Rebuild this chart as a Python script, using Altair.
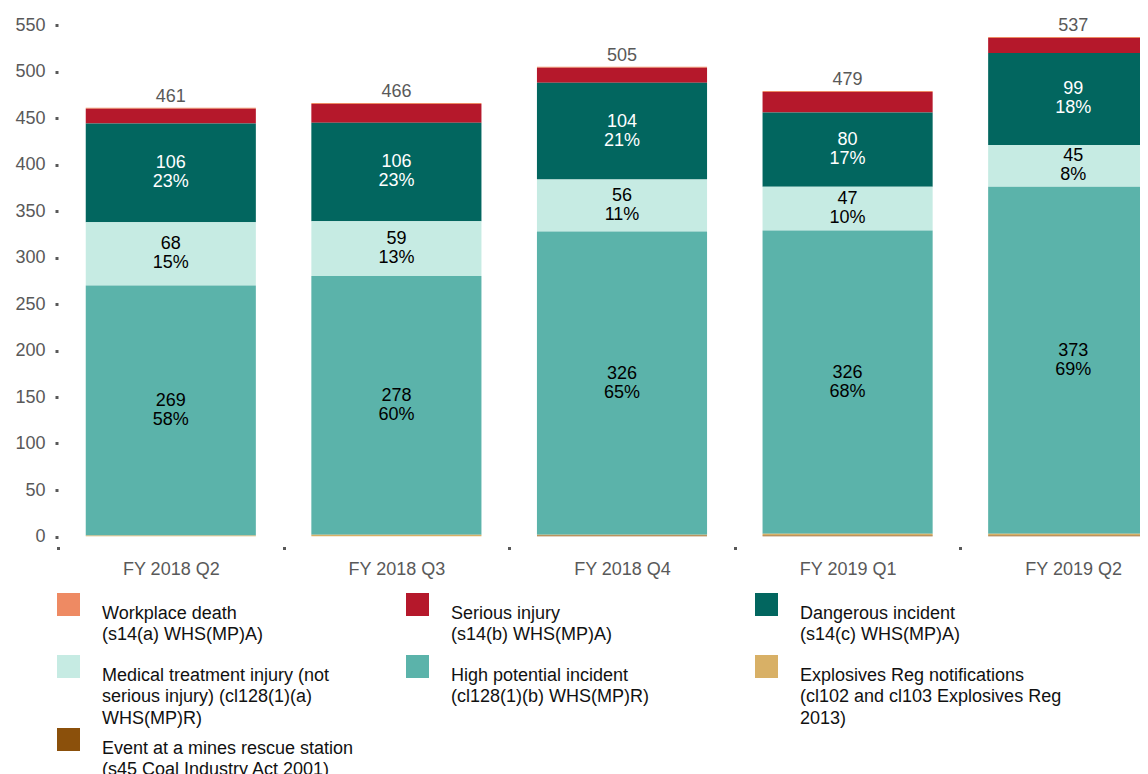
import altair as alt
import pandas as pd

quarters = ["FY 2018 Q2", "FY 2018 Q3", "FY 2018 Q4", "FY 2019 Q1", "FY 2019 Q2"]

series_labels = [
    "Workplace death|(s14(a) WHS(MP)A)",
    "Serious injury|(s14(b) WHS(MP)A)",
    "Dangerous incident|(s14(c) WHS(MP)A)",
    "Medical treatment injury (not|serious injury) (cl128(1)(a)|WHS(MP)R)",
    "High potential incident|(cl128(1)(b) WHS(MP)R)",
    "Explosives Reg notifications|(cl102 and cl103 Explosives Reg|2013)",
    "Event at a mines rescue station|(s45 Coal Industry Act 2001)",
]
series_colors = ["#EE8A63", "#B5182B", "#02665F", "#C6EBE3", "#5BB3AA", "#D8B066", "#8B500B"]
# stacking position from the bottom (0 = lowest)
stack_rank = [6, 5, 4, 3, 2, 1, 0]

workplace_death = [1, 1, 1, 1, 1]
serious_injury = [16, 20, 16, 22, 16]
dangerous_incident = [106, 106, 104, 80, 99]
medical_treatment = [68, 59, 56, 47, 45]
high_potential = [269, 278, 326, 326, 373]
explosives = [1, 2, 1, 2, 2]
mines_rescue = [0, 0, 1, 1, 1]
totals = [461, 466, 505, 479, 537]

high_potential_pct = ["58%", "60%", "65%", "68%", "69%"]
medical_pct = ["15%", "13%", "11%", "10%", "8%"]
dangerous_pct = ["23%", "23%", "21%", "17%", "18%"]

series_values = [workplace_death, serious_injury, dangerous_incident, medical_treatment,
                 high_potential, explosives, mines_rescue]

rows = []
for name, vals, rank in zip(series_labels, series_values, stack_rank):
    for q, v in zip(quarters, vals):
        rows.append({"quarter": q, "series": name, "value": v, "rank": rank})
df = pd.DataFrame(rows)

# segment mid points for the labelled series
lab_rows = []
for i, q in enumerate(quarters):
    base = mines_rescue[i] + explosives[i]
    for vals, pcts, col in [(high_potential, high_potential_pct, "#000000"),
                            (medical_treatment, medical_pct, "#000000"),
                            (dangerous_incident, dangerous_pct, "#FFFFFF")]:
        lab_rows.append({"quarter": q, "mid": base + vals[i] / 2,
                         "label": f"{vals[i]}|{pcts[i]}", "tcolor": col})
        base += vals[i]
lab_df = pd.DataFrame(lab_rows)
tot_df = pd.DataFrame({"quarter": quarters, "total": totals})

FONT = "Liberation Sans"
GREY = "#595959"

RANGE_W = 1128
P_IN, P_OUT = 0.246, 0.123
STEP = RANGE_W / (len(quarters) - P_IN + 2 * P_OUT)

x_scale = alt.Scale(paddingInner=P_IN, paddingOuter=P_OUT, range=[0, RANGE_W])
x_enc = alt.X(
    "quarter:N", sort=quarters, title=None, scale=x_scale,
    axis=alt.Axis(labelAngle=0, domain=False, bandPosition=0,
                  tickOffset=-STEP * P_OUT, labelOffset=STEP * P_OUT,
                  tickSize=13, tickDash=[3, 10], tickDashOffset=3, tickWidth=3,
                  tickColor=GREY, labelAlign="center",
                  labelPadding=11, labelColor=GREY, labelFontSize=18, labelFont=FONT),
)
y_scale = alt.Scale(domain=[0, 550], nice=False)

bars = alt.Chart(df).mark_bar(clip=True).encode(
    x=x_enc,
    y=alt.Y("value:Q", stack="zero", scale=y_scale, title=None,
            axis=alt.Axis(values=list(range(0, 551, 50)), grid=False, domain=False,
                          tickSize=3, tickWidth=3, tickColor=GREY, labelPadding=10,
                          labelColor=GREY, labelFontSize=18, labelFont=FONT)),
    color=alt.Color(
        "series:N", scale=alt.Scale(domain=series_labels, range=series_colors),
        legend=alt.Legend(
            title=None, orient="none", legendX=-1, legendY=557, columns=3,
            direction="horizontal",
            symbolType="square", symbolSize=529, symbolStrokeWidth=0,
            labelOffset=22, labelFont=FONT, labelFontSize=18, labelColor="#111111",
            labelLimit=500, labelBaseline="top",
            labelExpr="split(datum.label, '|')",
            columnPadding=42, rowPadding=-6, gridAlign="all", padding=0,
        ),
    ),
    order=alt.Order("rank:Q", sort="ascending"),
)

seg_text = alt.Chart(lab_df).mark_text(
    font=FONT, fontSize=18, lineBreak="|", lineHeight=19, baseline="middle", dy=-9.5
).encode(
    x=alt.X("quarter:N", sort=quarters, scale=x_scale),
    y=alt.Y("mid:Q", scale=y_scale),
    text="label:N",
    color=alt.Color("tcolor:N", scale=None),
)

tot_text = alt.Chart(tot_df).mark_text(
    font=FONT, fontSize=18, baseline="bottom", dy=-2, color=GREY
).encode(
    x=alt.X("quarter:N", sort=quarters, scale=x_scale),
    y=alt.Y("total:Q", scale=y_scale),
    text="total:Q",
)

chart = alt.layer(bars, seg_text, tot_text).properties(
    width=1082, height=511.5,
    autosize=alt.AutoSizeParams(type="none"),
    padding={"left": 50, "top": 17, "right": 0, "bottom": 260},
).configure(
    font=FONT, style={"guide-label": {"lineHeight": 21.5}}
).configure_view(stroke=None)

chart.save("out.html", embed_options={"renderer": "svg", "actions": False})
